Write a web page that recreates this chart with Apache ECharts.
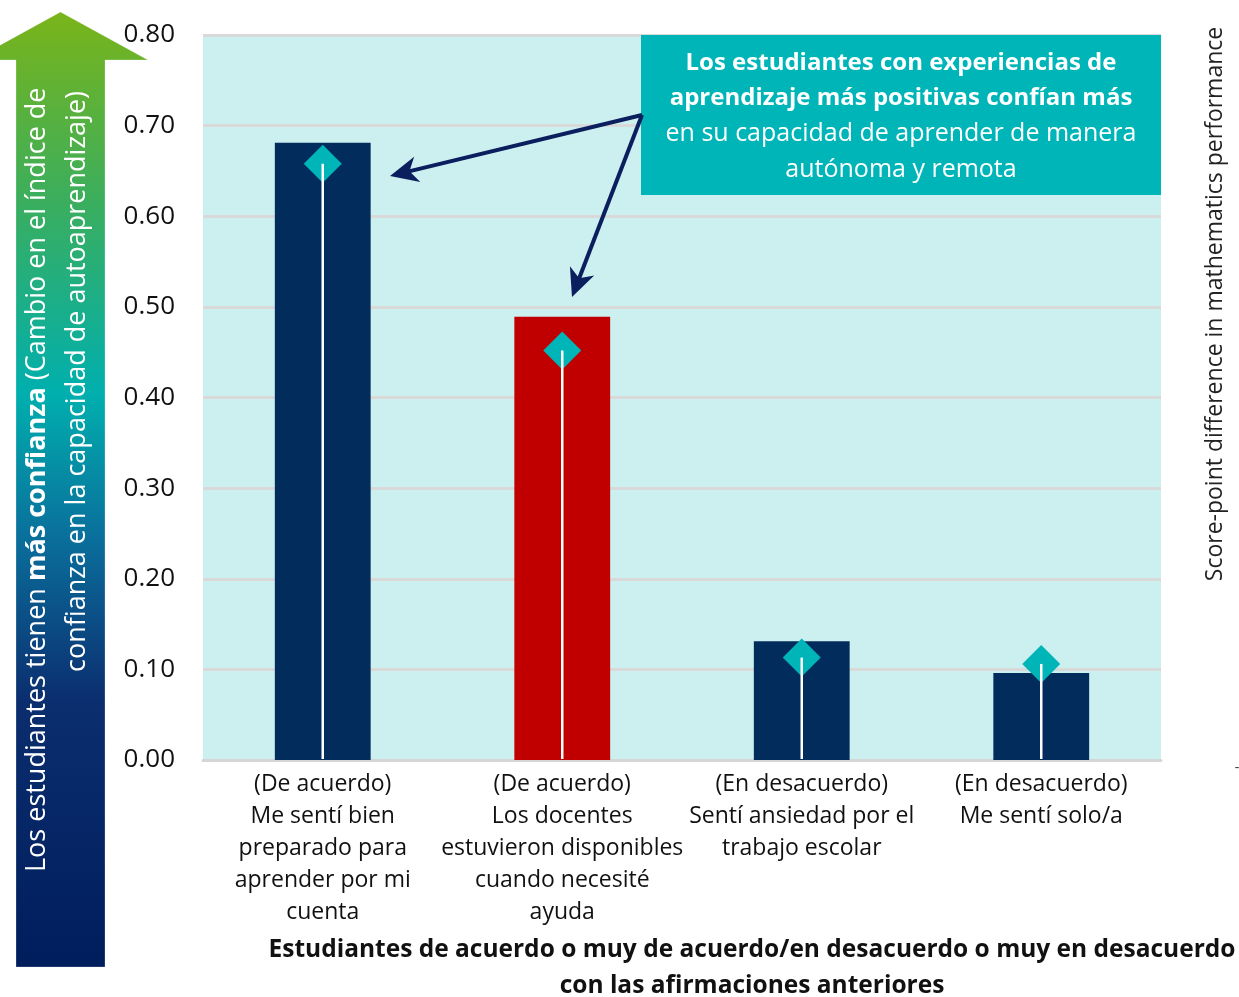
<!DOCTYPE html>
<html>
<head>
<meta charset="utf-8">
<script src="https://cdn.jsdelivr.net/npm/echarts@6/dist/echarts.min.js"></script>
<style>
html,body{margin:0;padding:0;background:#fff;}
#chart{width:1239px;height:997px;}
</style>
</head>
<body>
<div id="chart"></div>
<script>
var categories = [
  '(De acuerdo)\nMe sentí bien\npreparado para\naprender por mi\ncuenta',
  '(De acuerdo)\nLos docentes\nestuvieron disponibles\ncuando necesité\nayuda',
  '(En desacuerdo)\nSentí ansiedad por el\ntrabajo escolar',
  '(En desacuerdo)\nMe sentí solo/a'
];
var barValues = [0.681, 0.489, 0.131, 0.096];
var markerValues = [0.658, 0.452, 0.113, 0.106];
var highlightIndex = [1];
var yTicks = { min: 0, max: 0.8, interval: 0.1 };

var NAVY = '#022c5c', RED = '#c00000', TEAL = '#00b5b8';
var FONT = '"Open Sans", "DejaVu Sans", sans-serif';

var chart = echarts.init(document.getElementById('chart'), null, {renderer: 'canvas'});

function arrowHead(tip, from, len, halfW, notch) {
  var dx = tip[0] - from[0], dy = tip[1] - from[1];
  var d = Math.sqrt(dx*dx + dy*dy); var ux = dx/d, uy = dy/d;
  var px = -uy, py = ux;
  var bx = tip[0] - ux*len, by = tip[1] - uy*len;
  var nx = tip[0] - ux*(len - notch), ny = tip[1] - uy*(len - notch);
  return [tip, [bx + px*halfW, by + py*halfW], [nx, ny], [bx - px*halfW, by - py*halfW]];
}
function lineEnd(tip, from, back) {
  var dx = tip[0] - from[0], dy = tip[1] - from[1];
  var d = Math.sqrt(dx*dx + dy*dy);
  return [tip[0] - dx/d*back, tip[1] - dy/d*back];
}
var origin = [642, 115];
var tipA = [390, 176];
var tipB = [572, 297];

var option = {
  backgroundColor: '#ffffff',
  animation: false,
  grid: {
    left: 203, right: 78, top: 35, bottom: 237,
    show: true, backgroundColor: '#ccefef', borderWidth: 0
  },
  xAxis: {
    type: 'category',
    data: categories,
    axisLine: { show: true, lineStyle: { color: '#d6d6d6', width: 3 } },
    axisTick: { show: false },
    axisLabel: {
      interval: 0, color: '#111', fontFamily: FONT, fontSize: 23,
      lineHeight: 32, margin: 8
    }
  },
  yAxis: {
    type: 'value',
    min: yTicks.min, max: yTicks.max, interval: yTicks.interval,
    axisLine: { show: false },
    axisTick: { show: false },
    splitLine: { lineStyle: { color: '#d9d9d9', width: 3 } },
    axisLabel: {
      color: '#111', fontFamily: FONT, fontSize: 26, margin: 28,
      formatter: function (v) { return v.toFixed(2); }
    }
  },
  series: [
    {
      type: 'bar',
      barWidth: '40%',
      data: barValues.map(function (v, i) {
        return { value: v, itemStyle: { color: highlightIndex.indexOf(i) >= 0 ? RED : NAVY } };
      }),
      z: 2
    },
    {
      type: 'scatter',
      symbol: 'diamond',
      symbolSize: 38,
      itemStyle: { color: TEAL, opacity: 1 },
      data: markerValues,
      z: 3
    },
    {
      type: 'custom',
      z: 4,
      data: markerValues.map(function (v, i) { return [i, v]; }),
      renderItem: function (params, api) {
        var top = api.coord([api.value(0), api.value(1)]);
        var bot = api.coord([api.value(0), 0]);
        return {
          type: 'line',
          shape: { x1: top[0], y1: top[1], x2: bot[0], y2: bot[1] - 1 },
          style: { stroke: '#ffffff', lineWidth: 2.5 }
        };
      }
    }
  ],
  graphic: [
    {
      type: 'polygon',
      shape: { points: [[-27, 60], [60.5, 12], [148, 60], [105, 60], [105, 967], [16, 967], [16, 60]] },
      style: {
        fill: new echarts.graphic.LinearGradient(0, 0, 0, 1, [
          { offset: 0, color: '#7ab419' },
          { offset: 0.2, color: '#3aae5e' },
          { offset: 0.4, color: '#00afae' },
          { offset: 0.55, color: '#0a6f9c' },
          { offset: 0.72, color: '#0b2e6f' },
          { offset: 1, color: '#001d5c' }
        ]),
        stroke: 'rgba(255,255,255,0.25)', lineWidth: 1
      },
      z: 10
    },
    {
      type: 'text', x: 37, y: 872, rotation: Math.PI / 2, z: 11,
      style: {
        text: '{n|Los estudiantes tienen }{b|más confianza}{n| (Cambio en el índice de}',
        textAlign: 'left', textVerticalAlign: 'middle',
        rich: {
          n: { fill: '#fff', fontFamily: FONT, fontSize: 27 },
          b: { fill: '#fff', fontFamily: FONT, fontSize: 27, fontWeight: 'bold' }
        }
      }
    },
    {
      type: 'text', x: 77, y: 672, rotation: Math.PI / 2, z: 11,
      style: {
        text: 'confianza en la capacidad de autoaprendizaje)',
        fill: '#fff', fontFamily: FONT, fontSize: 27,
        textAlign: 'left', textVerticalAlign: 'middle'
      }
    },
    {
      type: 'text', x: 1215, y: 304, rotation: Math.PI / 2, z: 11,
      style: {
        text: 'Score-point difference in mathematics performance',
        fill: '#222', fontFamily: FONT, fontSize: 23,
        textAlign: 'center', textVerticalAlign: 'middle'
      }
    },
    {
      type: 'text', x: 1237, y: 768, z: 11,
      style: { text: '-', fill: '#333', fontFamily: FONT, fontSize: 14, textAlign: 'center', textVerticalAlign: 'middle' }
    },
    {
      type: 'text', x: 752, y: 968, z: 11,
      style: {
        text: 'Estudiantes de acuerdo o muy de acuerdo/en desacuerdo o muy en desacuerdo\ncon las afirmaciones anteriores',
        fill: '#111', fontFamily: FONT, fontSize: 24.5, fontWeight: 'bold', lineHeight: 36,
        textAlign: 'center', textVerticalAlign: 'middle'
      }
    },
    {
      type: 'rect', shape: { x: 641, y: 35, width: 520, height: 160 },
      style: { fill: TEAL }, z: 12
    },
    {
      type: 'text', x: 901, y: 117, z: 13,
      style: {
        text: '{b|Los estudiantes con experiencias de}\n{b|aprendizaje más positivas confían más}\n{n|en su capacidad de aprender de manera}\n{n|autónoma y remota}',
        textAlign: 'center', textVerticalAlign: 'middle',
        rich: {
          b: { fill: '#fff', fontFamily: FONT, fontSize: 24, fontWeight: 'bold', lineHeight: 35, align: 'center' },
          n: { fill: '#fff', fontFamily: FONT, fontSize: 25, lineHeight: 36, align: 'center' }
        }
      }
    },
    {
      type: 'line', z: 14,
      shape: { x1: origin[0], y1: origin[1], x2: lineEnd(tipA, origin, 12)[0], y2: lineEnd(tipA, origin, 12)[1] },
      style: { stroke: '#0b1f5e', lineWidth: 4 }
    },
    {
      type: 'polygon', z: 14,
      shape: { points: arrowHead(tipA, origin, 28, 13, 8) },
      style: { fill: '#0b1f5e' }
    },
    {
      type: 'line', z: 14,
      shape: { x1: origin[0], y1: origin[1], x2: lineEnd(tipB, origin, 12)[0], y2: lineEnd(tipB, origin, 12)[1] },
      style: { stroke: '#0b1f5e', lineWidth: 4 }
    },
    {
      type: 'polygon', z: 14,
      shape: { points: arrowHead(tipB, origin, 28, 13, 8) },
      style: { fill: '#0b1f5e' }
    }
  ]
};
chart.setOption(option);
</script>
</body>
</html>
